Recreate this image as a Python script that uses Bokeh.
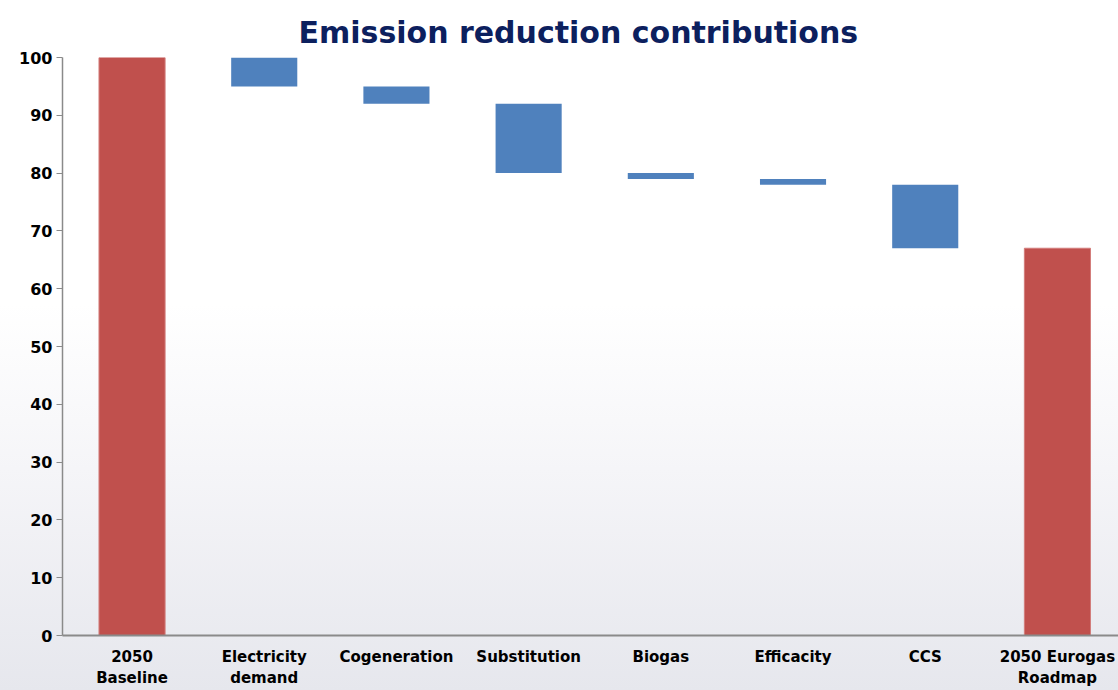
from bokeh.plotting import figure
from bokeh.models import Range1d, FixedTicker, ColumnDataSource
from bokeh.embed import file_html
from bokeh.resources import INLINE

# Waterfall data: starting level, successive reductions, end level
categories = ["2050\nBaseline", "Electricity\ndemand", "Cogeneration", "Substitution",
              "Biogas", "Efficacity", "CCS", "2050 Eurogas\nRoadmap"]
baseline = 100
reductions = [5, 3, 12, 1, 1, 11]
roadmap = 67
y_ticks = [0, 10, 20, 30, 40, 50, 60, 70, 80, 90, 100]

RED = "#c0504d"
BLUE = "#4f81bd"
FONT = "DejaVu Sans"

# Floating bars for each reduction step
steps_x, steps_top, steps_bottom = [], [], []
level = baseline
for i, r in enumerate(reductions, start=1):
    steps_x.append(i)
    steps_top.append(level)
    steps_bottom.append(level - r)
    level -= r

totals = ColumnDataSource(dict(x=[0, len(categories) - 1], top=[baseline, roadmap]))
steps = ColumnDataSource(dict(x=steps_x, top=steps_top, bottom=steps_bottom))

p = figure(width=1118, height=690, output_backend="svg", toolbar_location=None,
           title="Emission reduction contributions",
           x_range=Range1d(-0.526, 7.462), y_range=Range1d(0, 100),
           min_border_left=62, min_border_right=0, min_border_top=57, min_border_bottom=54)

p.title.align = "left"
p.title.offset = 236
p.title.text_font = FONT
p.title.text_font_style = "bold"
p.title.text_font_size = "30px"
p.title.text_color = "#0c205e"
p.title.standoff = 16

p.background_fill_color = None
p.border_fill_color = None
p.outline_line_color = None
p.styles = {"background": "linear-gradient(to bottom, #ffffff 0%, #ffffff 44%, "
                          "#f5f5f8 68%, #e6e7ed 100%)"}
p.xgrid.grid_line_color = None
p.ygrid.grid_line_color = None

p.vbar(x="x", top="top", bottom=0, width=0.5, source=totals,
       fill_color=RED, line_color="#d27c7a", line_width=1)
p.vbar(x="x", top="top", bottom="bottom", width=0.5, source=steps,
       fill_color=BLUE, line_color=None)

# Axes
p.yaxis.ticker = FixedTicker(ticks=y_ticks)
p.yaxis.minor_tick_line_color = None
p.yaxis.major_tick_in = 0
p.yaxis.major_tick_out = 6
p.yaxis.axis_line_color = "#8a8a8a"
p.yaxis.major_tick_line_color = "#8a8a8a"
p.yaxis.axis_line_width = 1.5
p.yaxis.major_label_text_font = FONT
p.yaxis.major_label_text_font_style = "bold"
p.yaxis.major_label_text_font_size = "16px"
p.yaxis.major_label_text_color = "#000000"
p.yaxis.major_label_standoff = 4

p.xaxis.ticker = FixedTicker(ticks=list(range(len(categories))))
p.xaxis.major_label_overrides = {i: c for i, c in enumerate(categories)}
p.xaxis.minor_tick_line_color = None
p.xaxis.major_tick_line_color = None
p.xaxis.axis_line_color = "#8a8a8a"
p.xaxis.axis_line_width = 2
p.xaxis.major_label_text_font = FONT
p.xaxis.major_label_text_font_style = "bold"
p.xaxis.major_label_text_font_size = "15px"
p.xaxis.major_label_text_color = "#000000"
p.xaxis.major_label_standoff = 6

open("out.html", "w").write(file_html(p, INLINE))
